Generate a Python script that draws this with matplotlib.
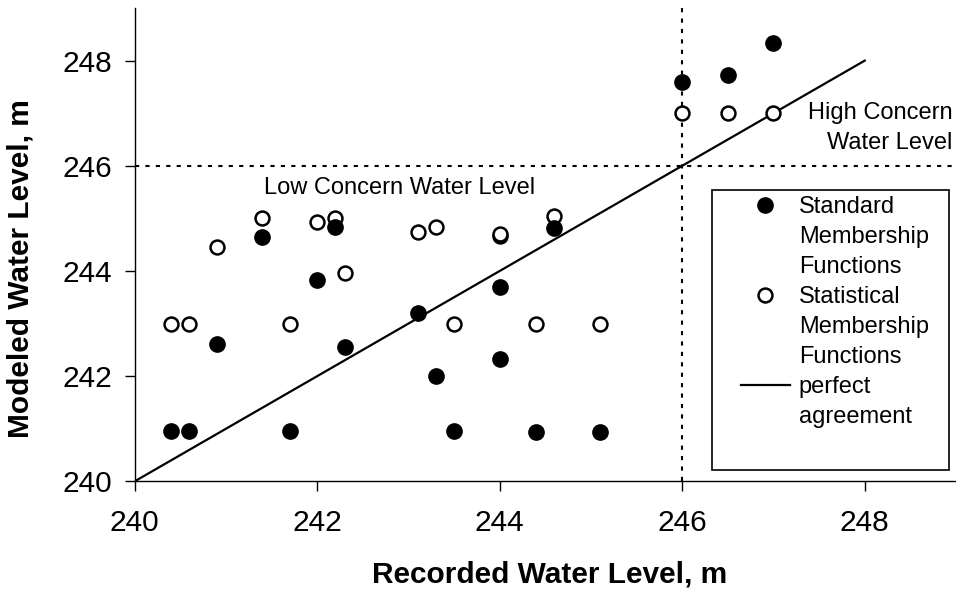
import matplotlib
matplotlib.use("Agg")
import matplotlib.pyplot as plt
from matplotlib.lines import Line2D
from matplotlib.patches import Rectangle

plt.rcParams["font.family"] = ["Liberation Sans", "DejaVu Sans"]

# recorded water level (x) for each event, shared by both series
recorded = [240.4, 240.6, 240.9, 241.4, 241.7, 242.0, 242.2, 242.3, 243.1, 243.3,
            243.5, 244.0, 244.0, 244.4, 244.6, 245.1, 246.0, 246.5, 247.0]
standard = [240.96, 240.96, 242.61, 244.64, 240.96, 243.83, 244.83, 242.56, 243.20, 242.0,
            240.96, 243.70, 242.32, 240.94, 244.81, 240.94, 247.60, 247.73, 248.33]
statistical = [243.0, 243.0, 244.45, 245.0, 243.0, 244.94, 245.0, 243.97, 244.75, 244.83,
               243.0, 244.67, 244.70, 243.0, 245.04, 243.0, 247.0, 247.0, 247.0]
perfect = [240, 248]
concern_level = 246
ticks = [240, 242, 244, 246, 248]

fig = plt.figure(figsize=(9.56, 5.9), dpi=100)
ax = fig.add_axes([0.1409, 0.1842, 0.8591, 0.8022])

dotted = (0, (2, 3))
ax.axhline(concern_level, color="black", lw=1.5, ls=dotted, zorder=1)
ax.axvline(concern_level, color="black", lw=1.5, ls=dotted, zorder=1)
ax.plot(perfect, perfect, color="black", lw=1.6, zorder=2)

ax.plot(recorded, statistical, ls="none", marker="o", ms=10, mfc="white",
        mec="black", mew=1.8, zorder=3)
ax.plot(recorded, standard, ls="none", marker="o", ms=11, mfc="black",
        mec="black", zorder=4)

ax.set_xlim(240, 249)
ax.set_ylim(240, 249)
ax.set_xticks(ticks)
ax.set_yticks(ticks)
ax.tick_params(direction="out", length=7, width=1, labelsize=21.5)
ax.tick_params(axis="x", pad=13)
ax.tick_params(axis="y", pad=9)
for s in ("top", "right"):
    ax.spines[s].set_visible(False)
for s in ("left", "bottom"):
    ax.spines[s].set_linewidth(1.0)

ax.set_xlabel("Recorded Water Level, m", fontsize=21.5, fontweight="bold")
ax.set_ylabel("Modeled Water Level, m", fontsize=21.5, fontweight="bold")
ax.xaxis.set_label_coords(0.5057, -0.168)
ax.yaxis.set_label_coords(-0.122, 0.45)

ax.text(241.42, 245.58, "Low Concern Water Level", fontsize=17, ha="left", va="center")
ax.text(248.96, 246.72, "High Concern\nWater Level", fontsize=17, ha="right",
        va="center", linespacing=1.45)

# legend box (drawn separately so its size matches the original)
ax.add_patch(Rectangle((0.7029, 0.0239), 0.2886, 0.5916, transform=ax.transAxes,
                       facecolor="white", edgecolor="black", lw=1.2, zorder=5))
blank = Line2D([], [], ls="none")
handles = [
    Line2D([], [], ls="none", marker="o", ms=11, mfc="black", mec="black"),
    blank, blank,
    Line2D([], [], ls="none", marker="o", ms=10, mfc="white", mec="black", mew=1.8),
    blank, blank,
    Line2D([], [], color="black", lw=1.6),
    blank,
]
labels = ["Standard", "Membership", "Functions",
          "Statistical", "Membership", "Functions",
          "perfect", "agreement"]
leg = ax.legend(handles, labels, loc="upper left", bbox_to_anchor=(0.7382, 0.603),
                borderaxespad=0, borderpad=0, frameon=False, fontsize=17,
                handlelength=2.07, handletextpad=0.38, labelspacing=0.34)
leg.set_zorder(6)

fig.savefig("out.png", dpi=100)
